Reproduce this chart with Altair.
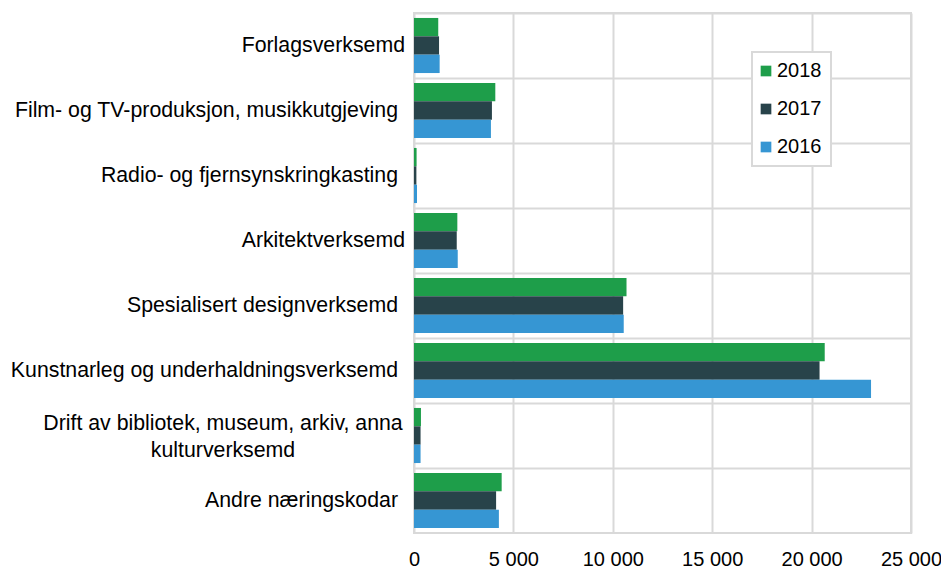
import altair as alt
import pandas as pd

categories = [
    "Forlagsverksemd",
    "Film- og TV-produksjon, musikkutgjeving",
    "Radio- og fjernsynskringkasting",
    "Arkitektverksemd",
    "Spesialisert designverksemd",
    "Kunstnarleg og underhaldningsverksemd",
    "Drift av bibliotek, museum, arkiv, anna kulturverksemd",
    "Andre næringskodar",
]
# how each category label is written in the reference (line breaks)
label_text = [
    "Forlagsverksemd",
    "Film- og TV-produksjon, musikkutgjeving",
    "Radio- og fjernsynskringkasting",
    "Arkitektverksemd",
    "Spesialisert designverksemd",
    "Kunstnarleg og underhaldningsverksemd",
    "Drift av bibliotek, museum, arkiv, anna\nkulturverksemd",
    "Andre næringskodar",
]
# label style group: a = flush, b = with trailing space, c = two centred lines
label_group = ["a", "b", "b", "a", "b", "b", "c", "b"]

years = ["2018", "2017", "2016"]
v2018 = [1220, 4090, 130, 2180, 10690, 20660, 350, 4410]
v2017 = [1260, 3920, 120, 2150, 10520, 20400, 330, 4130]
v2016 = [1290, 3870, 150, 2200, 10550, 22990, 330, 4270]
colors = ["#1e9e4a", "#28434a", "#3696d3"]
x_ticks = [0, 5000, 10000, 15000, 20000, 25000]

rows = []
for yr, vals in zip(years, [v2018, v2017, v2016]):
    for c, v in zip(categories, vals):
        rows.append({"kategori": c, "år": yr, "verdi": v})
df = pd.DataFrame(rows)

labels_df = pd.DataFrame(
    {"kategori": categories, "tekst": label_text, "gruppe": label_group}
)

FONT = "Liberation Sans"
GRID = "#d9d9d9"
LABEL_SIZE = 21.3

y_axis = alt.Axis(
    title=None,
    grid=True,
    gridColor=GRID,
    gridWidth=2,
    bandPosition=0,
    domain=False,
    ticks=False,
    tickSize=0,
    labels=False,
)
y_enc = alt.Y(
    "kategori:N",
    sort=categories,
    scale=alt.Scale(paddingInner=0, paddingOuter=0),
    axis=y_axis,
)

bars = (
    alt.Chart(df)
    .mark_bar()
    .encode(
        x=alt.X(
            "verdi:Q",
            scale=alt.Scale(domain=[0, 25000], nice=False),
            axis=alt.Axis(
                values=x_ticks,
                title=None,
                grid=True,
                gridColor=GRID,
                gridWidth=2,
                domain=False,
                ticks=False,
                tickSize=0,
                labelPadding=16,
                labelFontSize=20,
                labelFont=FONT,
                labelColor="#000000",
                labelOverlap=False,
                labelFlush=False,
                labelExpr="replace(format(datum.value, ','), ',', ' ')",
            ),
        ),
        y=y_enc,
        yOffset=alt.YOffset(
            "år:N",
            sort=years,
            scale=alt.Scale(paddingInner=0, paddingOuter=0.27),
        ),
        color=alt.Color(
            "år:N",
            sort=years,
            scale=alt.Scale(domain=years, range=colors),
            legend=alt.Legend(
                title=None,
                orient="none",
                legendX=338,
                legendY=39,
                symbolType="square",
                symbolSize=114,
                symbolStrokeWidth=0,
                symbolOffset=-5,
                labelFontSize=20,
                labelFont=FONT,
                labelColor="#000000",
                labelOffset=1,
                rowPadding=18,
                padding=9,
                strokeColor=GRID,
                fillColor="#ffffff",
            ),
        ),
    )
)

base_labels = alt.Chart(labels_df)

lab_a = (
    base_labels.transform_filter(alt.datum.gruppe == "a")
    .mark_text(align="right", baseline="middle", dx=-9, fontSize=LABEL_SIZE, font=FONT, color="#000000")
    .encode(y=y_enc, x=alt.value(0), text="tekst:N")
)
lab_b = (
    base_labels.transform_filter(alt.datum.gruppe == "b")
    .mark_text(align="right", baseline="middle", dx=-16, fontSize=LABEL_SIZE, font=FONT, color="#000000")
    .encode(y=y_enc, x=alt.value(0), text="tekst:N")
)
lab_c = (
    base_labels.transform_filter(alt.datum.gruppe == "c")
    .mark_text(
        align="center",
        baseline="middle",
        dx=-191,
        dy=-12,
        fontSize=LABEL_SIZE,
        font=FONT,
        color="#000000",
        lineBreak="\n",
        lineHeight=27,
    )
    .encode(y=y_enc, x=alt.value(0), text="tekst:N")
)

chart = (
    alt.layer(bars, lab_a, lab_b, lab_c)
    .properties(
        width=497,
        height=520,
        autosize=alt.AutoSizeParams(type="none"),
        padding={"left": 406, "top": 5, "right": 30, "bottom": 40},
    )
    .configure_view(stroke=GRID, strokeWidth=2)
    .configure_legend(strokeWidth=2)
)

chart.save("out.html", embed_options={"renderer": "svg", "actions": False})
